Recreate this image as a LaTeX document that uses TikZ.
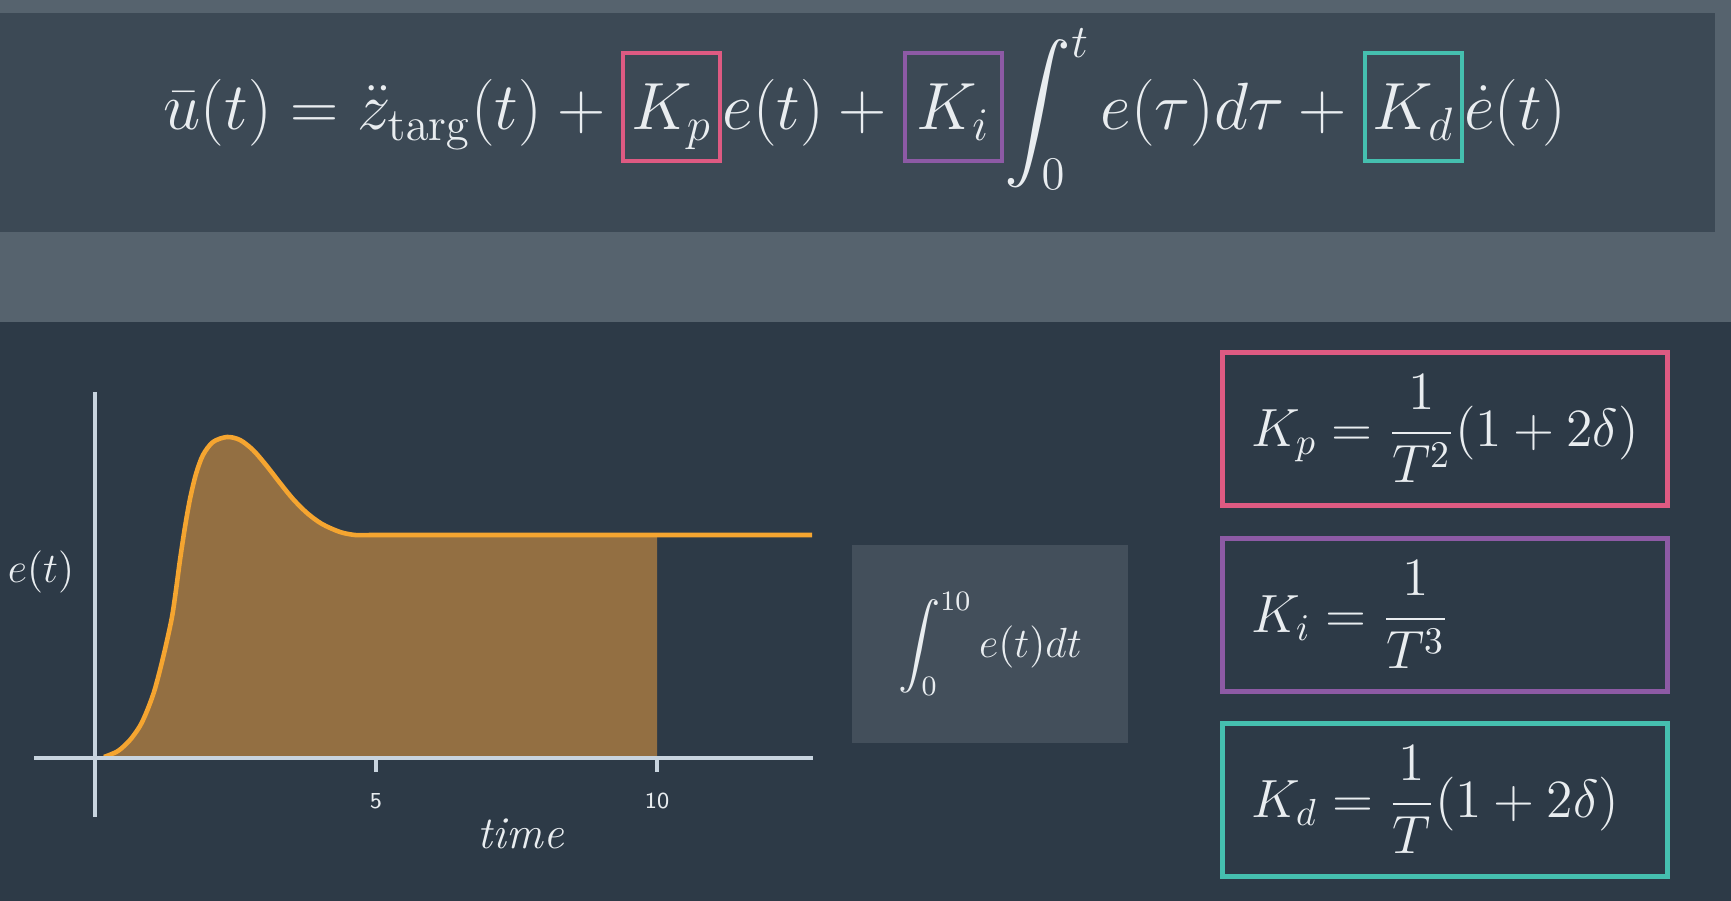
\documentclass[tikz,border=0pt]{standalone}
\usepackage{fix-cm}
\usepackage{amsmath,amssymb}
\usepackage{tikz}
\usetikzlibrary{calc}
\usetikzlibrary{positioning}

\definecolor{bgnavy}{HTML}{2D3A47}
\definecolor{bgpanel}{HTML}{3C4955}
\definecolor{bgband}{HTML}{56636E}
\definecolor{intfill}{HTML}{434F5B}
\definecolor{areafill}{HTML}{936F42}
\definecolor{curveorange}{HTML}{F5A530}
\definecolor{axisgray}{HTML}{C8D4DF}
\definecolor{kpcol}{HTML}{DE5A82}
\definecolor{kicol}{HTML}{8D5AA5}
\definecolor{kdcol}{HTML}{45BFAF}
\definecolor{txt}{HTML}{E9EDF0}

\tikzset{
  gainbox/.style={draw=#1, line width=1.2pt, inner sep=0pt, text height=0.77cm, text depth=0.31cm, minimum width=0.97cm},
  rulebox/.style={draw=#1, line width=1.4pt, minimum width=4.45cm, minimum height=1.53cm, inner xsep=0.29cm, text width=3.87cm, align=left},
  axisline/.style={draw=axisgray, line width=1.2pt},
}

\begin{document}
\begin{tikzpicture}[x=0.01cm,y=-0.01cm]
		\useasboundingbox (0,0) rectangle (1731,901);
		\fill[bgband] (0,0) rectangle (1731,322);
		\fill[bgnavy] (0,322) rectangle (1731,901);
		\fill[bgpanel] (0,13) rectangle (1715,232);

		% control law
		\begin{scope}[every node/.style={text=txt, inner sep=0pt, anchor=base west, font=\fontsize{19}{23}\selectfont}]
		\node (lhs) at (163,130) {$\bar{u}(t) = \ddot{z}_{\mathrm{targ}}(t) +{}$};
		\node[gainbox=kpcol] (Kp) at (lhs.base east) {$K_p$};
		\node (pterm) at (Kp.base east) {$e(t) +{}$};
		\node[gainbox=kicol] (Ki) at (pterm.base east) {$K_i$};
		\node (iterm) at (Ki.base east) {$\displaystyle\int_0^t e(\tau)d\tau +{}$};
		\node[gainbox=kdcol] (Kd) at (iterm.base east) {$K_d$};
		\node (dterm) at (Kd.base east) {$\dot{e}(t)$};
		\end{scope}

		% error plot
		\fill[areafill] (108,757) -- plot[smooth, tension=0.5] coordinates {(108,757) (118,751) (130,740) (140,726) (147,711) (154,692) (160,670) (166,645) (172,617) (176,590) (180,560) (185,527) (190,499) (196,474) (203,455) (213,442) (227,437) (240,440) (253,450) (266,465) (280,483) (293,499) (307,513) (322,524) (340,532) (355,535) (370,535)} -- (657,535) -- (657,757) -- cycle;
		\draw[curveorange, line width=1.3pt] plot[smooth, tension=0.5] coordinates {(104,757) (118,751) (130,740) (140,726) (147,711) (154,692) (160,670) (166,645) (172,617) (176,590) (180,560) (185,527) (190,499) (196,474) (203,455) (213,442) (227,437) (240,440) (253,450) (266,465) (280,483) (293,499) (307,513) (322,524) (340,532) (355,535) (370,535)} -- (812,535);
		\path[axisline] (34,758) -- (813,758);
		\path[axisline] (95,392) -- (95,817);
		\path[axisline] (376,758) -- (376,772);
		\path[axisline] (657,758) -- (657,772);

		\begin{scope}[every node/.style={text=txt}]
		\node[font=\sffamily\fontsize{6.5}{8}\selectfont] (t5) at (376,801) {5};
		\node[font=\sffamily\fontsize{6.5}{8}\selectfont] (t10) at (657,801) {10};
		\node[font=\fontsize{13}{15}\selectfont, anchor=base] (xlab) at (521,848) {\textit{time}};
		\node[font=\fontsize{12}{14}\selectfont] (ylab) at (41,572) {$e(t)$};
		\node[fill=intfill, minimum width=2.75cm, minimum height=1.98cm, font=\fontsize{12}{14}\selectfont] (area) at (990,644) {$\displaystyle\int_0^{10} e(t)dt$};
		\end{scope}

		% gain rules
		\begin{scope}[every node/.style={text=txt, font=\fontsize{15.3}{18}\selectfont}]
		\node[rulebox=kpcol] (Kprule) at (1445,429) {$K_p = \dfrac{1}{T^2}(1+2\delta)$};
		\node[rulebox=kicol] (Kirule) at (1445,615) {$K_i = \dfrac{1}{T^3}$};
		\node[rulebox=kdcol] (Kdrule) at (1445,800) {$K_d = \dfrac{1}{T}(1+2\delta)$};
		\end{scope}
\end{tikzpicture}
\end{document}
